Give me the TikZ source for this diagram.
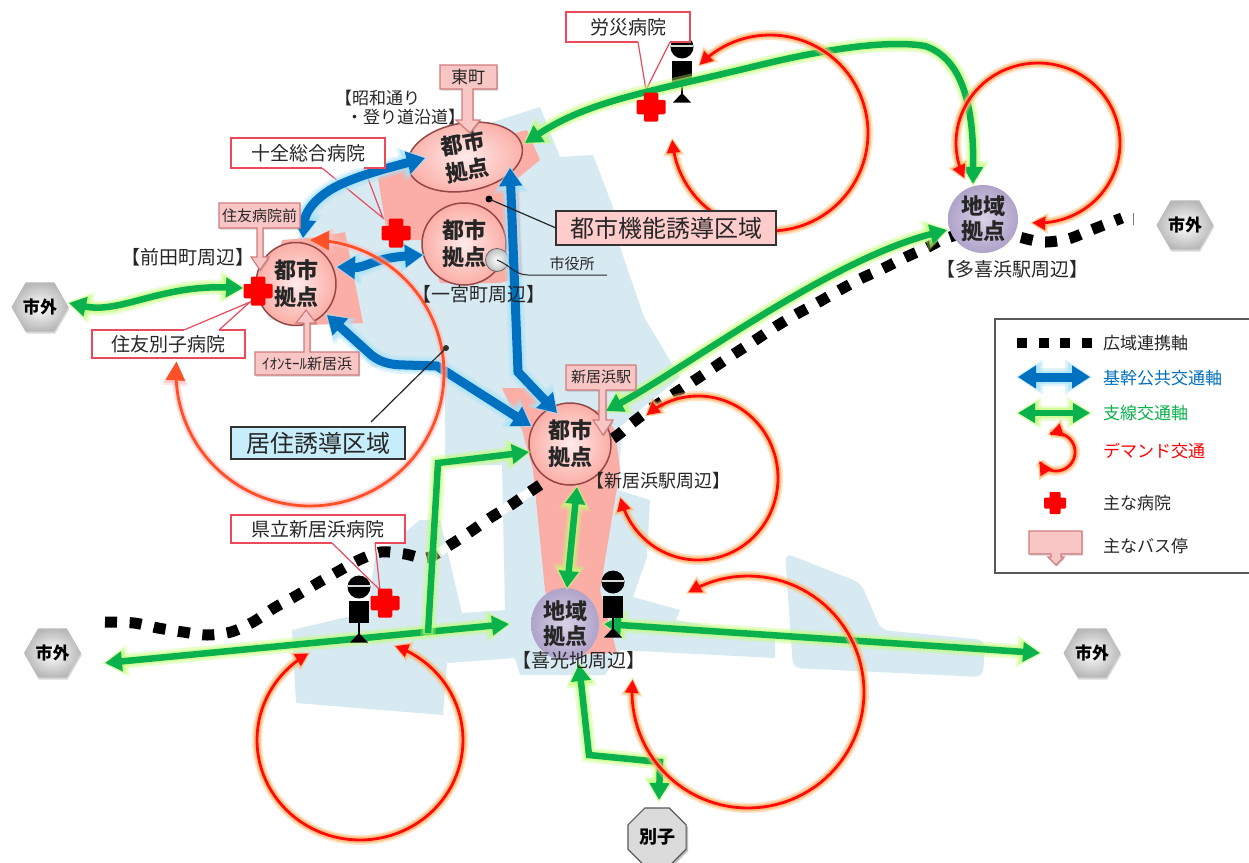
\documentclass[tikz,border=0pt]{standalone}
\usepackage{fontspec}
\setmainfont{Noto Sans CJK JP}
\usetikzlibrary{arrows.meta,shapes.geometric,shadows}
\definecolor{cityblue}{HTML}{D7EAF2}
\definecolor{citypink}{HTML}{FBAEA6}
\definecolor{routegreen}{HTML}{0BB14C}
\definecolor{routeblue}{HTML}{0070C0}
\definecolor{routered}{HTML}{FF0A0A}
\definecolor{bigred}{HTML}{FF5028}
\definecolor{hospred}{HTML}{FF0000}
\definecolor{calloutred}{HTML}{EC4A5C}
\definecolor{busfill}{HTML}{F9C6C6}
\definecolor{busline}{HTML}{D27C7C}
\definecolor{areain}{HTML}{D8D2E6}
\definecolor{areaout}{HTML}{AFA3C9}
\newcommand{\fs}[1]{\fontsize{#1}{#1}\selectfont}
\tikzset{
  x=1pt,y=-1pt,
  every node/.style={inner sep=0pt,outer sep=0pt},
  greenouter/.style={draw=green!45!yellow!55!white,opacity=.35,line width=15pt,shorten >=-3pt,shorten <=-3pt,>={Triangle[width=30pt,length=26pt]}},
  greeninner/.style={draw=green!45!yellow!55!white,opacity=.55,line width=10pt,shorten >=-1.5pt,shorten <=-1.5pt,>={Triangle[width=25pt,length=22pt]}},
  greencore/.style={draw=routegreen,line width=6.5pt,>={Triangle[width=19pt,length=17pt]}},
  blueouter/.style={draw=cyan!35,opacity=.35,line width=18pt,shorten >=-3pt,shorten <=-3pt,>={Triangle[width=33pt,length=28pt]}},
  blueinner/.style={draw=cyan!35,opacity=.6,line width=13pt,shorten >=-1.5pt,shorten <=-1.5pt,>={Triangle[width=28pt,length=24pt]}},
  bluecore/.style={draw=routeblue,line width=9pt,>={Triangle[width=22pt,length=18pt]}},
  redouter/.style={draw=orange!55,opacity=.4,line width=10pt,shorten >=-3pt,shorten <=-3pt,>={Triangle[width=20pt,length=19pt]}},
  redinner/.style={draw=orange!60,opacity=.7,line width=6.5pt,shorten >=-1.5pt,shorten <=-1.5pt,>={Triangle[width=17pt,length=16pt]}},
  redcore/.style={draw=routered,line width=2.8pt,>={Triangle[width=13pt,length=13pt]}},
  bigouter/.style={draw=red!25,opacity=.4,line width=8pt,>={Triangle[width=24pt,length=24pt]}},
  biginner/.style={draw=red!25,opacity=.5,line width=5.5pt,>={Triangle[width=22pt,length=22pt]}},
  bigcore/.style={draw=bigred,line width=2.8pt,>={Triangle[width=19pt,length=19pt]}},
  citynode/.style={ellipse,draw=black!30!red!45!gray,line width=1.5pt,inner color=red!8,outer color=citypink,align=center,font=\fs{22}\bfseries,text=black!85},
  areanode/.style={ellipse,inner color=areain,outer color=areaout,align=center,font=\fs{22}\bfseries,text=black!85},
  hexnode/.style={regular polygon,regular polygon sides=6,minimum size=57pt,inner color=white,outer color=black!28,font=\fs{17}\bfseries,text=black,drop shadow={shadow xshift=.8pt,shadow yshift=-2pt,opacity=.3}},
  octnode/.style={regular polygon,regular polygon sides=8,minimum size=63pt,draw=black!65,line width=1.2pt,fill=black!14,font=\fs{18}\bfseries,text=black,drop shadow={shadow xshift=2pt,shadow yshift=-2pt,opacity=.5}},
  placetext/.style={font=\fs{19},text=black!85},
  calloutbox/.style={fill=white,font=\fs{19},text=black!85},
  calloutline/.style={draw=calloutred,line width=1.2pt,line join=miter},
  busshape/.style={fill=busfill,draw=busline,line width=1.2pt,drop shadow={shadow xshift=1pt,shadow yshift=-1.6pt,opacity=.35}},
  bustext/.style={text=black!85,font=\fs{15}},
  areabox/.style={draw=black!80,line width=1.5pt,font=\fs{24},text=black!85,anchor=center},
  leader/.style={draw=black!85,line width=1.2pt},
  dotaxis/.style={draw=black,line width=11pt,dash pattern=on 12pt off 12.6pt},
  legendtext/.style={anchor=west,font=\fs{17},text=black!85},
}
\newcommand{\Route}[3]{%
  \draw[#1outer,#2] #3;
  \draw[#1inner,#2] #3;
  \draw[#1core,#2] #3;}
\newcommand{\LoopPath}[6]{plot[domain=#5:#6,samples=90] ({#1+#2*cos(\x)},{#3+#4*sin(\x)})}
\newcommand{\RedLoop}[6]{\Route{red}{<->}{\LoopPath{#1}{#2}{#3}{#4}{#5}{#6}}}
\newcommand{\HospCross}[4]{% name, x, y, half-size
  \coordinate (#1) at (#2,#3);
  \fill[hospred,shift={(#1)},scale=#4]
    (-.42,-1) -- (.42,-1) -- (.5,-.9) -- (.5,-.5) -- (.9,-.5) -- (1,-.4) -- (1,.4) -- (.9,.5) -- (.5,.5) -- (.5,.9) -- (.42,1)
    -- (-.42,1) -- (-.5,.9) -- (-.5,.5) -- (-.9,.5) -- (-1,.4) -- (-1,-.4) -- (-.9,-.5) -- (-.5,-.5) -- (-.5,-.9) -- cycle;}
\newcommand{\Person}[3]{% name, head x, head y
  \coordinate (#1) at (#2,#3);
  \begin{scope}[shift={(#1)}]
    \fill[black] (0,0) circle[radius=11.5pt];
    \draw[black!15,line width=1.2pt] (-11,-1) -- (11,-1);
    \fill[black] (-10,14) rectangle (10,35.5);
    \draw[black,line width=1.2pt] (0,35) -- (0,50);
    \fill[black] (-9,55.5) -- (9,55.5) -- (0,46) -- cycle;
  \end{scope}}
\begin{document}
\begin{tikzpicture}
\useasboundingbox (0,0) rectangle (1249,862);
\fill[white] (0,0) rectangle (1249,862);

% urban areas
\fill[cityblue] (490,123) -- (540,107) -- (560,157) -- (593,155) -- (613,207) -- (620,247) -- (644,317) -- (680,377)
  -- (622,425) -- (618,490) -- (650,500) -- (647,557) -- (633,597) -- (680,610) -- (676,620) -- (775,637) -- (775,658)
  -- (620,650) -- (605,675) -- (520,675) -- (515,658) -- (447,663) -- (443,715) -- (296,703) -- (292,630) -- (368,612)
  -- (375,557) -- (420,520) -- (440,520) -- (462,613) -- (505,610) -- (502,465) -- (445,465) -- (445,372) -- (373,367)
  -- (327,320) -- (270,320) -- (258,295) -- (300,235) -- (310,205) -- (340,180) -- (400,160) -- (425,150) -- cycle;
\fill[cityblue,rounded corners=8pt] (785,553) -- (861,583) -- (881,630) -- (985,640) -- (983,677) -- (793,668) -- cycle;
% induction areas
\fill[citypink] (378,178) -- (411,160) -- (527,130) -- (540,160) -- (518,178) -- (522,277) -- (500,283) -- (440,283) -- (425,240) -- (388,240) -- cycle;
\fill[citypink] (282,240) -- (320,237) -- (345,232) -- (363,323) -- (310,325) -- (270,300) -- cycle;
\fill[citypink] (502,388) -- (530,388) -- (560,410) -- (600,410) -- (615,430) -- (620,470) -- (600,590) -- (617,653) -- (560,655) -- (545,590) -- (533,470) -- (522,430) -- cycle;

% wide-area axis
\coordinate (axisW) at (105,622);
\coordinate (axisE) at (1122,218);
\draw[white,line width=9pt] (440,552) -- (540,485);
\draw[white,line width=9pt] (615,437) -- (680,388);
\draw[dotaxis] (axisW) plot[smooth,tension=.5] coordinates {(105,622) (134,623) (158,628) (183,632) (207,635) (231,632) (253,622) (274,608) (294,597) (316,584) (337,572) (359,560) (381,552) (405,554) (427,558) (450,545) (470,532) (490,518) (511,505) (531,491) (575,462) (615,437) (632,423) (652,408) (672,395) (692,382) (713,368) (734,354) (754,341) (775,327) (795,315) (817,303) (838,291) (860,279) (882,269) (904,258) (926,248) (947,238) (985,228) (1019,237) (1043,242) (1068,239) (1091,230) (1122,218)};
\draw[black!50,line width=1pt] (1133,213) -- (1133,225);

% centres
\node[citynode,minimum width=116pt,minimum height=62pt,rotate=10] (cityU) at (465,157) {都市\\[5pt]拠点};
\node[citynode,minimum width=84pt,minimum height=82pt] (cityM) at (464,244) {都市\\[5pt]拠点};
\node[citynode,minimum width=80pt,minimum height=83pt] (cityL) at (296,284) {都市\\[5pt]拠点};
\node[citynode,minimum width=82pt,minimum height=82pt] (cityS) at (570,444) {都市\\[5pt]拠点};
\node[areanode,minimum width=70pt,minimum height=68pt] (areaT) at (983,219) {地域\\[3pt]拠点};
\node[areanode,minimum width=68pt,minimum height=72pt] (areaK) at (565,624) {地域\\[3pt]拠点};
\node[circle,minimum size=23pt,inner color=white,outer color=black!25,draw=black!60,line width=.8pt] (cityhall) at (497,260) {};

% callout wedges
\coordinate (tipRosai) at (646,90);
\coordinate (tipJuzen) at (383,218);
\coordinate (tipBesshi) at (250,302);
\coordinate (tipKenritsu) at (380,590);
\draw[calloutline] (638,42) -- (tipRosai) -- (670,42);
\draw[calloutline] (322,168) -- (tipJuzen) -- (364,168);
\draw[calloutline] (184,330) -- (tipBesshi) -- (219,330);
\draw[calloutline] (332,543) -- (tipKenritsu) -- (375,543);

\Person{personA}{682}{47}

% trunk public transport axes
\coordinate (bU) at (425,158);
\coordinate (bL) at (303,238);
\coordinate (bLa) at (337,267);
\coordinate (bM) at (423,255);
\coordinate (bLb) at (327,315);
\coordinate (bSa) at (531,426);
\coordinate (bUb) at (510,168);
\coordinate (bSb) at (557,413);
\Route{blue}{<->}{(bU) .. controls (380,170) and (350,178) .. (330,190) .. controls (310,203) and (305,215) .. (bL)}
\Route{blue}{<->}{(bLa) .. controls (365,268) and (375,258) .. (bM)}
\Route{blue}{<->}{(bLb) -- (368,352) .. controls (378,362) and (390,365) .. (405,365) -- (437,366) -- (bSa)}
\Route{blue}{<->}{(bUb) -- (518,372) -- (bSb)}

% branch transport axes
\coordinate (gOut) at (69,303);
\coordinate (gL) at (243,288);
\coordinate (gU) at (525,143);
\coordinate (gT) at (973,184);
\coordinate (gTb) at (947,230);
\coordinate (gS) at (606,411);
\coordinate (gWest) at (105,663);
\coordinate (gK) at (509,624);
\coordinate (gRise) at (428,633);
\coordinate (gSc) at (529,452);
\coordinate (gSd) at (577,487);
\coordinate (gKb) at (567,588);
\coordinate (gKc) at (604,624);
\coordinate (gEast) at (1040,653);
\coordinate (gKd) at (579,664);
\coordinate (gBesshi) at (659,800);
\Route{green}{<->}{(gOut) .. controls (120,314) and (160,285) .. (gL)}
\Route{green}{<->}{(gU) .. controls (590,100) and (650,92) .. (760,65) .. controls (830,48) and (890,40) .. (925,46) .. controls (960,58) and (974,100) .. (gT)}
\Route{green}{<->}{(gS) .. controls (690,365) and (830,260) .. (gTb)}
\Route{green}{<->}{(gWest) -- (gK)}
\Route{green}{->}{(gRise) -- (438,463) -- (gSc)}
\Route{green}{<->}{(gSd) -- (gKb)}
\Route{green}{<->}{(gKc) -- (gEast)}
\Route{green}{<->}{(gKd) -- (589,755) -- (660,762) -- (gBesshi)}

% persons
\Person{personB}{359}{587}
\Person{personC}{613}{582}

% outside-city markers
\node[hexnode] (outW) at (40,307) {市外};
\node[hexnode] (outSW) at (52.5,653) {市外};
\node[hexnode] (outE) at (1185,225) {市外};
\node[hexnode] (outSE) at (1092,653) {市外};
\node[octnode] (besshi) at (657,837) {別子};

% hospitals
\HospCross{hospRosai}{651}{107}{14.5}
\HospCross{hospJuzen}{396}{233}{14.5}
\HospCross{hospBesshi}{258}{291}{14.5}
\HospCross{hospKenritsu}{385}{603}{14.5}

% demand transport
\RedLoop{770}{98}{133}{98}{176}{-136}
\RedLoop{1038}{82}{143}{80}{94}{-206}
\RedLoop{698}{80}{478}{82}{166}{-130}
\RedLoop{748}{116}{692}{116}{186}{-121}
\RedLoop{360}{103}{740}{100}{-120}{-430}
\Route{big}{<->}{\LoopPath{310}{134}{373}{133}{185}{-90}}

% bus stops
\path[busshape] (440,65) -- (497,65) -- (497,89) -- (473,89) -- (473,120) -- (480,120) -- (470,133) -- (456,120) -- (462,120) -- (462,89) -- (440,89) -- cycle;
\node[bustext,font=\fs{17}] (stopHigashi) at (468,77) {東町};
\path[busshape] (219,203) -- (300,203) -- (300,228) -- (263,228) -- (263,257) -- (269,257) -- (260,270) -- (251,257) -- (257,257) -- (257,228) -- (219,228) -- cycle;
\node[bustext] (stopSumi) at (259.5,215.5) {住友病院前};
\path[busshape] (255,352) -- (304,352) -- (304,323) -- (296,323) -- (306,310) -- (316,323) -- (310,323) -- (310,352) -- (359,352) -- (359,375) -- (255,375) -- cycle;
\node[bustext] (stopAeon) at (307,363.5) {ｲｵﾝﾓｰﾙ新居浜};
\path[busshape] (566,365) -- (636,365) -- (636,390) -- (606,390) -- (606,420) -- (613,420) -- (603,435) -- (593,420) -- (599,420) -- (599,390) -- (566,390) -- cycle;
\node[bustext] (stopStation) at (601,377) {新居浜駅};

% hospital labels
\node[calloutbox,minimum width=124pt,minimum height=30pt] (lblRosai) at (628,27) {労災病院};
\draw[calloutred,line width=1.2pt] (638,42) -- (566,42) -- (566,12) -- (690,12) -- (690,42) -- (670,42);
\node[calloutbox,minimum width=154pt,minimum height=30pt] (lblJuzen) at (308,153) {十全総合病院};
\draw[calloutred,line width=1.2pt] (322,168) -- (231,168) -- (231,138) -- (385,138) -- (385,168) -- (364,168);
\node[calloutbox,minimum width=153pt,minimum height=28pt] (lblBesshi) at (168.5,344) {住友別子病院};
\draw[calloutred,line width=1.2pt] (184,330) -- (92,330) -- (92,358) -- (245,358) -- (245,330) -- (219,330);
\node[calloutbox,minimum width=174pt,minimum height=28pt] (lblKenritsu) at (318,529) {県立新居浜病院};
\draw[calloutred,line width=1.2pt] (332,543) -- (231,543) -- (231,515) -- (405,515) -- (405,543) -- (375,543);

% place labels
\node[placetext,font=\fs{17},anchor=west] (plShowa) at (335,98) {【昭和通り};
\node[placetext,font=\fs{17},anchor=west] (plNobori) at (346,117) {・登り道沿道】};
\node[placetext] (plMaeda) at (188,257) {【前田町周辺】};
\node[placetext] (plIchi) at (479,294) {【一宮町周辺】};
\node[placetext,font=\fs{18}] (plShin) at (658,481) {【新居浜駅周辺】};
\node[placetext] (plKiko) at (579,660) {【喜光地周辺】};
\node[placetext] (plTaki) at (1012,269) {【多喜浜駅周辺】};

% city hall label
\coordinate (hallEnd) at (607,275);
\draw[leader,line width=1pt] (cityhall.center) .. controls (510,265) and (515,275) .. (528,275) -- (hallEnd);
\node[font=\fs{15},text=black!85] (lblHall) at (572,264) {市役所};

% induction area labels
\node[areabox,fill=red!20,minimum width=220pt,minimum height=34pt] (lblFunc) at (666,228) {都市機能誘導区域};
\coordinate (dotFunc) at (489,199);
\fill[black] (dotFunc) circle[radius=3.5pt];
\draw[leader] (dotFunc) -- (lblFunc.west);
\node[areabox,fill=cyan!22,minimum width=174pt,minimum height=32pt] (lblLive) at (318,443) {居住誘導区域};
\coordinate (dotLive) at (446,348);
\fill[black!80] (dotLive) circle[radius=3pt];
\draw[leader] (dotLive) -- (371,422);

% legend
\node[draw=black!65,fill=white,line width=1.5pt,minimum width=262pt,minimum height=254pt,anchor=north west] (legendbox) at (995,319) {};
\draw[draw=black,line width=10pt,dash pattern=on 10pt off 11.5pt] (1017,343) -- (1092,343);
\node[legendtext] (legA) at (1103,343) {広域連携軸};
\coordinate (legB1) at (1018,377); \coordinate (legB2) at (1090,377);
\Route{blue}{<->}{(legB1) -- (legB2)}
\node[legendtext,text=routeblue] (legB) at (1103,378) {基幹公共交通軸};
\coordinate (legC1) at (1018,413); \coordinate (legC2) at (1090,413);
\Route{green}{<->}{(legC1) -- (legC2)}
\node[legendtext,text=routegreen] (legC) at (1103,413) {支線交通軸};
\RedLoop{1056}{19}{452}{19}{150}{-110}
\node[legendtext,text=red] (legD) at (1103,451) {デマンド交通};
\HospCross{legCross}{1055}{503}{11}
\node[legendtext] (legE) at (1103,503) {主な病院};
\path[busshape] (1029,531) -- (1082,531) -- (1082,554) -- (1061,554) -- (1061,557) -- (1064,557) -- (1056,565) -- (1048,557) -- (1051,557) -- (1051,554) -- (1029,554) -- cycle;
\node[legendtext] (legF) at (1103,546) {主なバス停};
\end{tikzpicture}
\end{document}
